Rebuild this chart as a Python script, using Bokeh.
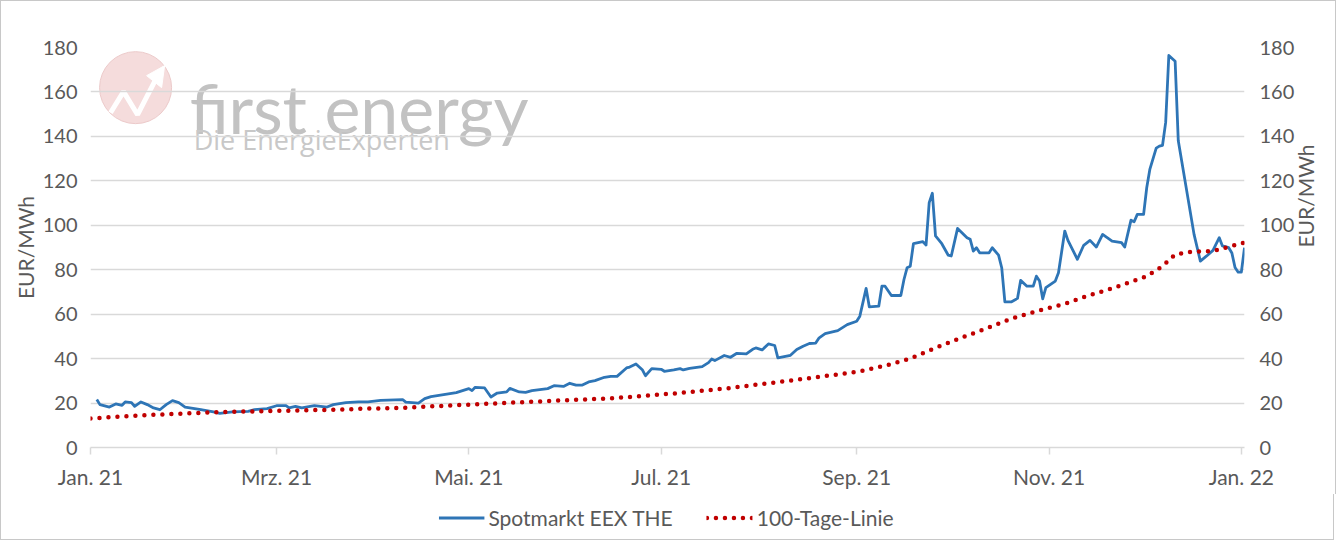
import math
import pandas as pd
from bokeh.plotting import figure
from bokeh.layouts import column
from bokeh.models import (ColumnDataSource, LinearAxis, FixedTicker, Legend,
                          LegendItem, Label, Range1d)
from bokeh.embed import file_html
from bokeh.resources import INLINE

# ---------------- data ----------------
START = "2021-01-01"

# Spotmarkt EEX THE: days since 2021-01-01 and price in EUR/MWh
spot_day = [2, 3, 6, 8, 10, 11, 13, 14, 16, 18, 20, 22, 24, 26, 28, 30, 35, 39, 41, 45,
            50, 52, 56, 59, 62, 63, 65, 67, 71, 75, 77, 81, 85, 88, 92, 99, 100, 104, 106, 108,
            113, 116, 120, 121, 122, 125, 127, 129, 132, 133, 136, 138, 140, 145, 147, 150, 152, 154, 156, 158,
            160, 163, 165, 167, 170, 171, 173, 175, 176, 178, 181, 182, 185, 187, 188, 190, 194, 196, 197, 198,
            201, 203, 205, 208, 210, 211, 213, 215, 217, 218, 222, 224, 226, 228, 230, 231, 233, 237, 240, 243,
            244, 246, 247, 250, 251, 252, 254, 257, 258, 259, 260, 261, 264, 265, 266, 267, 268, 270, 272, 273,
            275, 278, 279, 280, 281, 282, 285, 286, 288, 289, 290, 292, 294, 295, 297, 299, 300, 301, 302, 303,
            306, 307, 309, 310, 313, 315, 317, 319, 321, 324, 327, 328, 330, 331, 332, 334, 335, 336, 338, 339,
            340, 341, 342, 344, 345, 350, 352, 354, 356, 358, 359, 361, 362, 363, 364, 365, 366]
spot_price = [21.6, 19.3, 18.2, 19.6, 19.0, 20.5, 20.2, 18.5, 20.5, 19.3, 17.8, 17.0, 19.3, 21.1, 20.2, 18.2, 17.0, 16.0, 15.4, 16.0,
              16.3, 17.0, 17.5, 18.8, 18.8, 17.8, 18.5, 17.8, 18.8, 18.2, 19.3, 20.2, 20.5, 20.5, 21.2, 21.5, 20.4, 20.0, 22.0, 22.9,
              24.0, 24.7, 26.5, 25.6, 27.1, 26.8, 22.7, 24.5, 25.0, 26.6, 25.0, 24.8, 25.6, 26.5, 27.8, 27.5, 28.9, 28.1, 28.1, 29.5,
              30.1, 31.6, 32.0, 32.0, 35.8, 36.2, 37.6, 35.0, 32.3, 35.5, 35.2, 34.3, 34.9, 35.5, 34.9, 35.6, 36.4, 38.2, 39.8, 39.1,
              41.4, 40.6, 42.4, 42.1, 44.2, 44.8, 43.9, 46.6, 45.9, 40.3, 41.5, 44.1, 45.6, 46.8, 47.0, 49.2, 51.2, 52.6, 55.3, 56.8,
              59.1, 71.6, 63.3, 63.6, 72.6, 72.6, 68.4, 68.4, 75.6, 80.9, 81.6, 91.7, 92.6, 91.1, 110.2, 114.4, 95.2, 91.7, 86.6, 86.2,
              98.6, 94.4, 93.7, 88.4, 89.9, 87.6, 87.6, 89.9, 86.6, 80.9, 65.5, 65.5, 67.1, 75.2, 72.6, 72.6, 77.1, 74.9, 66.9, 71.9,
              74.9, 78.6, 97.4, 93.2, 84.7, 91.0, 93.2, 90.2, 95.9, 92.9, 92.2, 90.2, 102.3, 101.6, 104.9, 104.9, 117.0, 125.3, 134.7, 135.6,
              136.0, 146.3, 176.4, 173.8, 138.0, 95.9, 83.9, 86.2, 88.7, 94.4, 90.7, 89.9, 87.5, 81.0, 78.9, 78.9, 89.9]

# 100-Tage-Linie
ma_day = [0, 10, 21, 32, 42, 53, 67, 77, 88, 98, 120, 135, 150, 166, 185, 203, 220, 235, 244, 252,
          260, 268, 276, 284, 292, 300, 309, 316, 324, 335, 340, 344, 349, 356, 361, 366]
ma_value = [13.0, 14.0, 14.8, 15.4, 16.0, 16.3, 16.7, 17.0, 17.5, 17.8, 19.3, 20.3, 21.2, 22.2, 24.3, 26.8, 29.8, 32.5, 34.3, 36.8,
            40.0, 44.8, 49.3, 53.5, 58.0, 61.3, 64.6, 68.1, 71.6, 77.1, 81.6, 86.9, 88.0, 88.4, 90.3, 92.2]

series_names = ["Spotmarkt EEX THE", "100-Tage-Linie"]
x_tick_dates = ["2021-01-01", "2021-03-01", "2021-05-01", "2021-07-01",
                "2021-09-01", "2021-11-01", "2022-01-01"]
x_tick_labels = ["Jan. 21", "Mrz. 21", "Mai. 21", "Jul. 21", "Sep. 21", "Nov. 21", "Jan. 22"]
y_ticks = [0, 20, 40, 60, 80, 100, 120, 140, 160, 180]
y_title = "EUR/MWh"

# ---------------- styling ----------------
FONT = "Lato"
TXT = "#595959"
GRID = "#d9d9d9"
BLUE = "#2e75b6"
RED = "#c00000"
EDGE = "1px solid #c8c8c8"
BLUE_W, RED_W, RED_DASH = 2.8, 4.5, "0 9"
FIG_W = 1334
FRAME_W = 1152

base = pd.Timestamp(START)
spot_src = ColumnDataSource(dict(x=(base + pd.to_timedelta(spot_day, unit="D")).to_numpy(), y=spot_price))
ma_src = ColumnDataSource(dict(x=(base + pd.to_timedelta(ma_day, unit="D")).to_numpy(), y=ma_value))


def ms(ts):
    return pd.Timestamp(ts).value / 1e6


p = figure(x_axis_type="datetime", output_backend="svg", toolbar_location=None,
           frame_width=FRAME_W, frame_height=399,
           x_range=Range1d(ms(base), ms(base + pd.Timedelta(days=366))),
           y_range=Range1d(0, 180),
           min_border_left=89, min_border_right=FIG_W - 89 - FRAME_W,
           min_border_top=46, min_border_bottom=48)
p.styles = {"border-top": EDGE, "border-left": EDGE, "border-right": EDGE}
p.outline_line_color = None
p.background_fill_color = "white"
p.border_fill_color = "white"

PX_PER_DAY = FRAME_W / 366


# watermark (decoration, drawn under the grid); positions given in page pixels
def px_x(px):
    return ms(base + pd.Timedelta(days=(px - 90) / PX_PER_DAY))


def px_y(py):
    return (446 - py) / 2.217


p.scatter(x=[px_x(135)], y=[px_y(87)], size=72, fill_color="#f3d6d6", line_color="#eccaca",
          line_width=1, fill_alpha=0.85, level="image")
p.line(x=[px_x(110), px_x(123), px_x(137), px_x(155)],
       y=[px_y(112), px_y(91), px_y(114), px_y(79)], line_color="white", line_width=5, level="image")
p.patch(x=[px_x(164), px_x(146), px_x(161)], y=[px_y(65), px_y(75), px_y(87)],
        fill_color="white", line_color="white", level="image")
p.add_layout(Label(x=px_x(189), y=px_y(107), text="first energy", text_font=FONT,
                   text_font_size="68px", text_color="#c2c2c2", text_baseline="alphabetic", level="image"))
p.add_layout(Label(x=px_x(193), y=px_y(139), text="Die EnergieExperten", text_font="Open Sans",
                   text_font_size="27px", text_color="#c8c8c8", text_baseline="alphabetic", level="image"))

p.line("x", "y", source=spot_src, line_color=BLUE, line_width=BLUE_W, line_join="round")
p.line("x", "y", source=ma_src, line_color=RED, line_width=RED_W, line_dash=RED_DASH, line_cap="round")

# grid
p.xgrid.grid_line_color = None
p.ygrid.ticker = FixedTicker(ticks=y_ticks)
p.ygrid.grid_line_color = GRID
p.ygrid.grid_line_width = 1.5

# x axis
xt = [ms(d) for d in x_tick_dates]
xa = p.xaxis[0]
xa.ticker = FixedTicker(ticks=xt)
xa.major_label_overrides = {t: l for t, l in zip(xt, x_tick_labels)}
xa.axis_line_color = GRID
xa.axis_line_width = 1.5
xa.major_tick_line_color = GRID
xa.major_tick_line_width = 1.5
xa.major_tick_out = 7
xa.major_tick_in = 0
xa.minor_tick_line_color = None
xa.major_label_text_font = FONT
xa.major_label_text_font_size = "21px"
xa.major_label_text_color = TXT
xa.major_label_standoff = 9

# y axes
ya = p.yaxis[0]
ry = LinearAxis(axis_label=y_title)
for ax, standoff in ((ya, 13), (ry, 15)):
    ax.ticker = FixedTicker(ticks=y_ticks)
    ax.axis_line_color = None
    ax.major_tick_line_color = None
    ax.major_tick_out = 0
    ax.major_tick_in = 0
    ax.minor_tick_line_color = None
    ax.minor_tick_out = 0
    ax.major_label_text_font = FONT
    ax.major_label_text_font_size = "20px"
    ax.major_label_text_color = TXT
    ax.major_label_standoff = standoff
    ax.axis_label_text_font = FONT
    ax.axis_label_text_font_size = "21px"
    ax.axis_label_text_font_style = "normal"
    ax.axis_label_text_color = TXT
ya.axis_label = y_title
ya.axis_label_standoff = 2
ry.axis_label_standoff = 8
if "axis_label_orientation" in LinearAxis.properties():
    ry.axis_label_orientation = math.pi / 2
p.add_layout(ry, "right")

# legend strip below the chart (its sample lines sit outside the strip's visible range)
leg = figure(width=FIG_W, height=46, output_backend="svg", toolbar_location=None,
             x_range=Range1d(0, 1), y_range=Range1d(0, 1), min_border=0)
leg.styles = {"border-bottom": EDGE, "border-left": EDGE, "border-right": EDGE}
leg.axis.visible = False
leg.grid.visible = False
leg.outline_line_color = None
leg_blue = leg.line(x=[5, 6], y=[5, 6], line_color=BLUE, line_width=BLUE_W)
leg_red = leg.line(x=[5, 6], y=[5, 6], line_color=RED, line_width=RED_W, line_dash=RED_DASH, line_cap="round")
legend = Legend(items=[LegendItem(label=series_names[0], renderers=[leg_blue]),
                       LegendItem(label=series_names[1], renderers=[leg_red])],
                orientation="horizontal", location="center",
                border_line_color=None, background_fill_alpha=0,
                label_text_font=FONT, label_text_font_size="21px", label_text_color=TXT,
                glyph_width=46, glyph_height=20, label_standoff=4, spacing=34,
                padding=0, margin=0)
leg.add_layout(legend)

layout = column(p, leg, spacing=0)

open("out.html", "w").write(file_html(layout, INLINE))
